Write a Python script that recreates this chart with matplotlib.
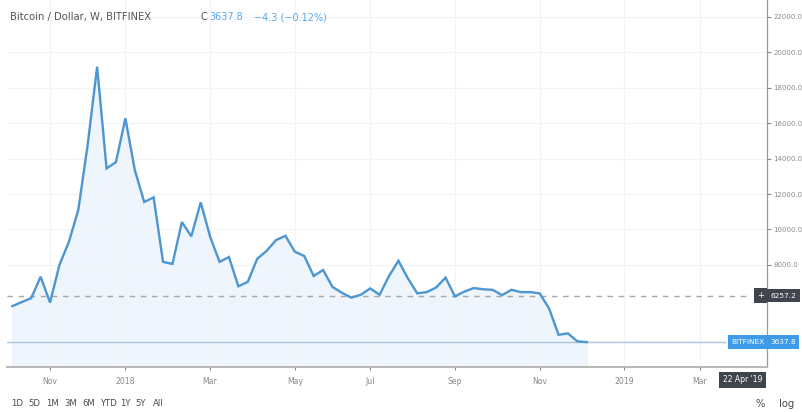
import matplotlib
matplotlib.use("Agg")
import matplotlib.pyplot as plt
import matplotlib.dates as mdates
import matplotlib.transforms as mtransforms
import pandas as pd

# Weekly closes, BTC/USD on Bitfinex
start_week = "2017-10-09"
closes = [5670, 5900, 6120, 7330, 5870, 8000, 9300, 11100, 14800, 19190,
          13450, 13800, 16280, 13360, 11550, 11810, 8170, 8050, 10420, 9610,
          11530, 9590, 8170, 8440, 6790, 7040, 8340, 8790, 9400, 9640,
          8740, 8500, 7370, 7710, 6750, 6420, 6150, 6310, 6670, 6310,
          7370, 8230, 7240, 6390, 6460, 6720, 7280, 6220, 6490, 6690,
          6620, 6590, 6290, 6590, 6460, 6460, 6390, 5540, 4050, 4130,
          3680, 3637.8]
weeks = pd.date_range(start_week, periods=len(closes), freq="7D")

last_close = 3637.8
ref_level = 6257.2
y_ticks = [8000, 10000, 12000, 14000, 16000, 18000, 20000, 22000]
x_tick_dates = ["2017-11-06", "2018-01-01", "2018-03-05", "2018-05-07", "2018-07-02",
                "2018-09-03", "2018-11-05", "2019-01-07", "2019-03-04"]
x_tick_labels = ["Nov", "2018", "Mar", "May", "Jul", "Sep", "Nov", "2019", "Mar"]
range_buttons = ["1D", "5D", "1M", "3M", "6M", "YTD", "1Y", "5Y", "All"]

line_col = "#4d96d1"
blue_box = "#3d9be9"
dark_box = "#40444d"
text_col = "#8a8a8a"

fig = plt.figure(figsize=(8.03, 4.12), dpi=100)
ax = fig.add_axes([7 / 803, 45 / 412, 760 / 803, 367 / 412])

ax.plot(weeks, closes, color=line_col, lw=1.7, zorder=3, solid_joinstyle="miter")
ax.fill_between(weeks, closes, 0, color="#e9f2fb", alpha=0.7, zorder=1)

ax.axhline(ref_level, color="#a8a8a8", lw=1.0, ls=(0, (4, 4)), xmax=743 / 760, zorder=2)
ax.axhline(last_close, color="#a9c6de", lw=1.0, xmax=718 / 760, zorder=2)

ax.set_xlim(pd.Timestamp("2017-10-05"), pd.Timestamp("2019-04-23"))
ax.set_ylim(2230, 22960)

ax.set_xticks([mdates.date2num(pd.Timestamp(d)) for d in x_tick_dates])
ax.set_xticklabels(x_tick_labels)
ax.yaxis.tick_right()
ax.set_yticks(y_ticks)
ax.set_yticklabels([f"{v:.1f}" for v in y_ticks])
ax.tick_params(axis="x", labelsize=5.6, colors=text_col, length=2, pad=5)
ax.tick_params(axis="y", labelsize=5.0, colors=text_col, length=3, pad=1.5)
ax.grid(True, color="#f1f3f7", lw=0.9, zorder=0)

for side in ["top", "left"]:
    ax.spines[side].set_visible(False)
ax.spines["bottom"].set_color("#b8b8b8")
ax.spines["bottom"].set_linewidth(1.4)
ax.spines["right"].set_color("#9a9a9a")
ax.spines["right"].set_linewidth(0.9)

# price labels on the right scale
tr = mtransforms.blended_transform_factory(ax.transAxes, ax.transData)
ax.text(1.004, ref_level, "6257.2", transform=tr, fontsize=5.3, color="white",
        va="center", ha="left", clip_on=False, zorder=6,
        bbox=dict(boxstyle="square,pad=0.5", fc=dark_box, ec="none"))
ax.text(0.991, ref_level, "+", transform=tr, fontsize=6, color="white",
        va="center", ha="center", clip_on=False, zorder=6,
        bbox=dict(boxstyle="square,pad=0.35", fc=dark_box, ec="none"))
ax.text(1.004, last_close, "3637.8", transform=tr, fontsize=5.3, color="white",
        va="center", ha="left", clip_on=False, zorder=6,
        bbox=dict(boxstyle="square,pad=0.5", fc=blue_box, ec="none"))
ax.text(0.997, last_close, "BITFINEX", transform=tr, fontsize=5.3, color="white",
        va="center", ha="right", clip_on=False, zorder=6,
        bbox=dict(boxstyle="square,pad=0.5", fc=blue_box, ec="none"))

# crosshair date label
ax.text(0.994, -0.035, "22 Apr '19", transform=ax.transAxes, fontsize=5.5, color="white",
        va="center", ha="right", clip_on=False, zorder=6,
        bbox=dict(boxstyle="square,pad=0.5", fc=dark_box, ec="none"))

# header
fig.text(10 / 803, 1 - 17 / 412, "Bitcoin / Dollar, W, BITFINEX", fontsize=7.2,
         color="#555555", va="center")
fig.text(201 / 803, 1 - 17 / 412, "C", fontsize=7.2, color="#555555", va="center")
fig.text(209 / 803, 1 - 17 / 412, "3637.8", fontsize=7, color="#5aa7e6", va="center")
fig.text(254 / 803, 1 - 17 / 412, "\u22124.3 (\u22120.12%)", fontsize=7, color="#5aa7e6", va="center")

# bottom toolbar
btn_x = [11, 28, 46, 64, 82, 100, 120, 135, 153]
for bx, lab in zip(btn_x, range_buttons):
    fig.text(bx / 803, 1 - 404 / 412, lab, fontsize=6.1, color="#4a4a4a", va="center")
fig.text(756 / 803, 1 - 404 / 412, "%", fontsize=7.2, color="#4a4a4a", va="center")
fig.text(779 / 803, 1 - 404 / 412, "log", fontsize=7.2, color="#4a4a4a", va="center")

fig.savefig("out.png", dpi=100, facecolor="white")
